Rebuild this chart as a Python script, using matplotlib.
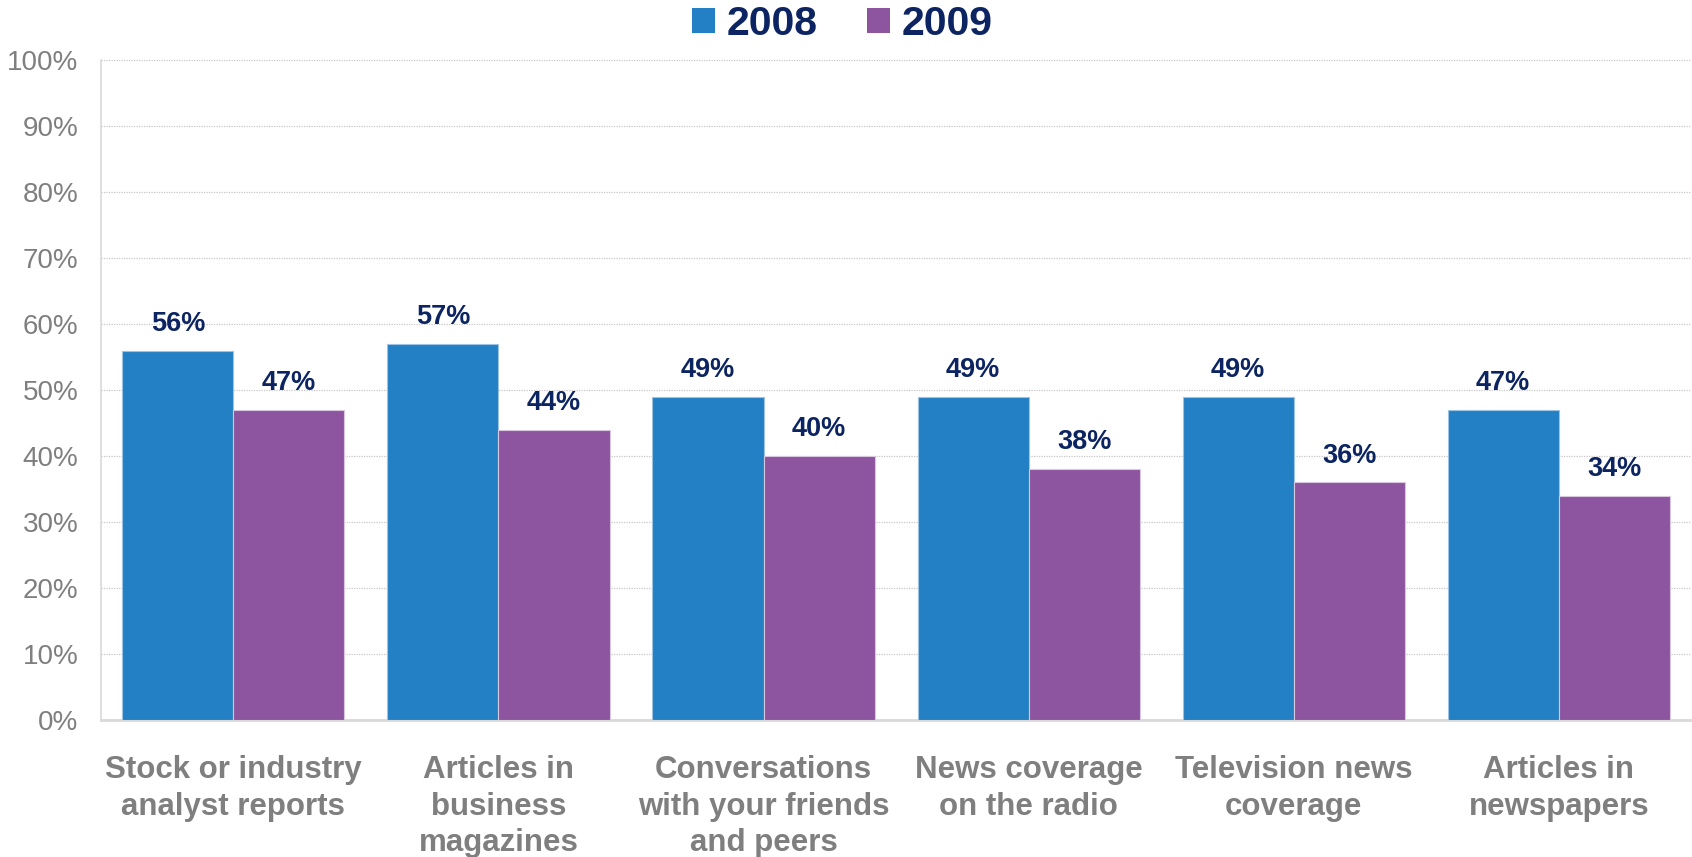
import matplotlib.pyplot as plt
import numpy as np
from matplotlib.patches import Patch
from matplotlib.ticker import PercentFormatter

plt.rcParams['font.family'] = ['Liberation Sans', 'DejaVu Sans']

# Survey data
categories = ["Stock or industry\nanalyst reports",
              "Articles in\nbusiness\nmagazines",
              "Conversations\nwith your friends\nand peers",
              "News coverage\non the radio",
              "Television news\ncoverage",
              "Articles in\nnewspapers"]
values_2008 = [56, 57, 49, 49, 49, 47]
values_2009 = [47, 44, 40, 38, 36, 34]
years = ["2008", "2009"]

blue = '#2380c4'
purple = '#8d54a0'
navy = '#0c2461'
grey = '#7f7f7f'

fig = plt.figure(figsize=(16.92, 8.57), dpi=100)
ax = fig.add_axes([0.0596, 0.16, 0.94, 0.7695])

x = np.arange(len(categories))
w = 0.419
b1 = ax.bar(x - w/2, values_2008, w, color=blue, edgecolor='#9cc3e3', linewidth=0.8, zorder=3)
b2 = ax.bar(x + w/2, values_2009, w, color=purple, edgecolor='#d9c6df', linewidth=0.8, zorder=3)

# value labels above each bar
for bars in (b1, b2):
    for rect in bars:
        v = rect.get_height()
        ax.annotate(f"{v:.0f}%", (rect.get_x() + rect.get_width()/2, v),
                    xytext=(0, 10), textcoords='offset points',
                    ha='center', va='bottom', fontsize=19.5,
                    fontweight='bold', color=navy)

ax.set_xlim(-0.5, 5.5)
ax.set_ylim(0, 100)
ax.set_yticks(np.arange(0, 101, 10))
ax.yaxis.set_major_formatter(PercentFormatter(decimals=0))
ax.tick_params(axis='y', length=0, labelsize=20, labelcolor=grey, pad=16)
ax.set_xticks(x)
ax.set_xticklabels(categories, fontsize=22.5, fontweight='bold', color=grey,
                   linespacing=1.3)
ax.tick_params(axis='x', length=0, pad=25)
ax.yaxis.grid(True, linestyle=(0, (1, 1)), color='#c8c8c8', linewidth=0.9, zorder=0)

for s in ['top', 'right']:
    ax.spines[s].set_visible(False)
ax.spines['left'].set_color('#d9d9d9')
ax.spines['left'].set_linewidth(1.2)
ax.spines['bottom'].set_color('#d9d9d9')
ax.spines['bottom'].set_linewidth(2)

handles = [Patch(facecolor=blue), Patch(facecolor=purple)]
fig.legend(handles, years, loc='center', bbox_to_anchor=(0.498, 0.972), ncol=2,
           frameon=False, handlelength=0.55, handleheight=0.55,
           handletextpad=0.3, columnspacing=1.2,
           prop={'size': 29.5, 'weight': 'bold'}, labelcolor=navy)

fig.savefig('out.png', dpi=100)
